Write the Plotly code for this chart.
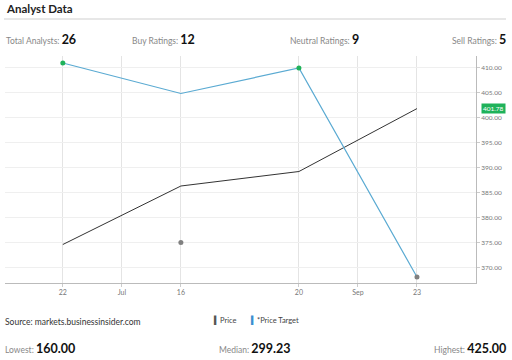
import plotly.graph_objects as go

# ---- data ----
tick_labels = ["22", "Jul", "16", "20", "Sep", "23"]
tick_pos = [0, 0.5, 1, 2, 2.5, 3]
x_idx = [0, 1, 2, 3]
price = [374.6, 386.3, 389.2, 401.78]
price_target = [410.9, 404.8, 409.9, 368.1]
rating_y = [410.9, 375.0, 409.9, 368.1]
rating_color = ["#1fb25a", "#808080", "#1fb25a", "#808080"]
y_ticks = [370, 375, 380, 385, 390, 395, 400, 405, 410]
last_price = 401.78

stats_top = [("Total Analysts: ", "26"), ("Buy Ratings: ", "12"),
             ("Neutral Ratings: ", "9"), ("Sell Ratings: ", "5")]
stats_bottom = [("Lowest: ", "160.00"), ("Median: ", "299.23"), ("Highest: ", "425.00")]

FONT = "Lato"
fig = go.Figure()
fig.add_trace(go.Scatter(x=x_idx, y=price, mode="lines",
                         line=dict(color="#333333", width=1), hoverinfo="skip"))
fig.add_trace(go.Scatter(x=x_idx, y=price_target, mode="lines",
                         line=dict(color="#5aaad2", width=1.2), hoverinfo="skip"))
fig.add_trace(go.Scatter(x=x_idx, y=rating_y, mode="markers",
                         marker=dict(color=rating_color, size=5), hoverinfo="skip"))

fig.update_layout(
    width=512, height=360,
    margin=dict(l=5, r=36, t=56, b=77),
    paper_bgcolor="white", plot_bgcolor="white",
    showlegend=False,
    font=dict(family=FONT, color="#333"),
    xaxis=dict(range=[-0.49, 3.5], tickvals=tick_pos, ticktext=tick_labels,
               showgrid=True, gridcolor="#e4e4e4", gridwidth=1,
               showline=True, linecolor="#bbbbbb", linewidth=1,
               ticks="outside", ticklen=3, tickcolor="#cccccc",
               tickfont=dict(size=7, color="#777"), zeroline=False),
    yaxis=dict(range=[366.9, 412.3], side="right", tickvals=y_ticks,
               tickformat=".2f", showgrid=True, gridcolor="#efefef",
               showline=True, linecolor="#bbbbbb", linewidth=1,
               ticks="outside", ticklen=3, tickcolor="#cccccc",
               tickfont=dict(size=6.5, color="#777"), zeroline=False),
)


def px(xp, yp):
    W, H = 512 - 5 - 36, 360 - 56 - 77
    return (xp - 5) / W, (360 - 77 - yp) / H


anns = []
x0, y0 = px(4, 9)
anns.append(dict(text="<b>Analyst Data</b>", x=x0, y=y0, xanchor="left", yanchor="middle",
                 font=dict(size=11.5, color="#222")))
top_pos = [(4, "left"), (130, "left"), (288, "left"), (508, "right")]
for (lab, val), (xp, anc) in zip(stats_top, top_pos):
    xx, yy = px(xp, 39)
    anns.append(dict(text=f"<span style='font-size:8.5px;color:#888'>{lab}</span><b>{val}</b>",
                     x=xx, y=yy, xanchor=anc, yanchor="middle",
                     font=dict(size=12.5, color="#111")))
bot_pos = [(3, "left"), (255, "center"), (508, "right")]
for (lab, val), (xp, anc) in zip(stats_bottom, bot_pos):
    xx, yy = px(xp, 348)
    anns.append(dict(text=f"<span style='font-size:8.5px;color:#888'>{lab}</span><b>{val}</b>",
                     x=xx, y=yy, xanchor=anc, yanchor="middle",
                     font=dict(size=12.5, color="#111")))
xx, yy = px(3, 322)
anns.append(dict(text="Source: markets.businessinsider.com", x=xx, y=yy, xanchor="left",
                 yanchor="middle", font=dict(size=8.5, color="#333")))
xx, yy = px(211, 320)
anns.append(dict(text="<span style='color:#555555'>▍</span>Price", x=xx, y=yy,
                 xanchor="left", yanchor="middle", font=dict(size=7.5, color="#444")))
xx, yy = px(248, 320)
anns.append(dict(text="<span style='color:#3a8fd0'>▍</span>*Price Target", x=xx, y=yy,
                 xanchor="left", yanchor="middle", font=dict(size=7.5, color="#444")))
for a in anns:
    a.update(xref="paper", yref="paper", showarrow=False)
# last price tag
anns.append(dict(text=f"{last_price:.2f}", x=1.0, y=last_price, xref="paper", yref="y",
                 xanchor="left", yanchor="middle", xshift=5, showarrow=False,
                 bgcolor="#1fb25a", font=dict(size=6.5, color="white"), borderpad=1))
fig.update_layout(annotations=anns)

# divider line under title
fig.add_shape(type="line", xref="paper", yref="paper",
              x0=px(4, 19)[0], x1=px(506, 19)[0], y0=px(4, 19)[1], y1=px(4, 19)[1],
              line=dict(color="#cfcfcf", width=1))

fig.write_html("out.html", config={"displayModeBar": False},
               post_script="document.body.style.margin='0px';")
